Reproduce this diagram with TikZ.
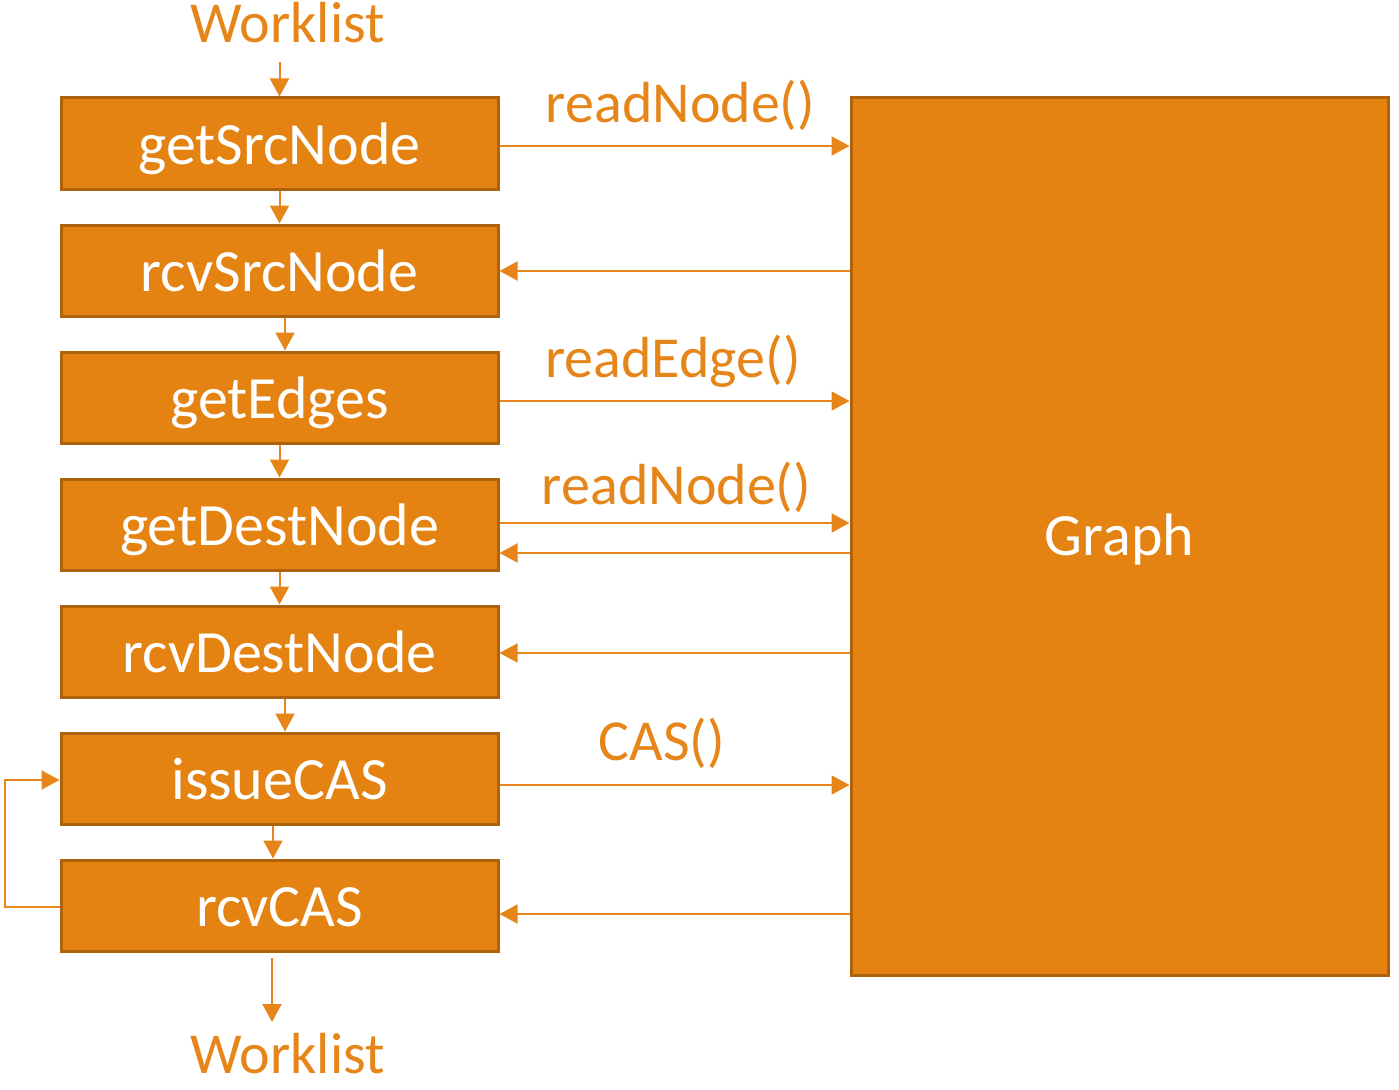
\documentclass[tikz,border=0pt]{standalone}
\usepackage{fontspec}
\setmainfont{Carlito}
\usetikzlibrary{arrows.meta,calc}
\definecolor{boxfill}{HTML}{E48312}
\definecolor{boxline}{HTML}{AE620C}
\definecolor{arr}{HTML}{E6861A}
\begin{document}
\begin{tikzpicture}[x=1pt,y=-1pt,
  stagebox/.style={draw=boxline,line width=3pt,fill=boxfill,minimum width=437pt,minimum height=91pt,inner sep=0pt,text height=49pt,text depth=8pt,text=white,font=\fontsize{60}{70}\selectfont},
  graphbox/.style={draw=boxline,line width=3pt,fill=boxfill,minimum width=537pt,minimum height=877pt,inner sep=0pt,text height=45pt,text depth=8pt,text=white,font=\fontsize{60}{70}\selectfont},
  flow/.style={draw=arr,line width=2pt,-{Triangle[length=18pt,width=19pt]}},
  lbl/.style={text=arr,font=\fontsize{58}{66}\selectfont,inner sep=0pt,anchor=base},
  wl/.style={text=arr,font=\fontsize{58}{66}\selectfont,inner sep=0pt,anchor=base}]
\useasboundingbox (0,0) rectangle (1399,1089);
\node[stagebox] (b1) at (279.5,143.5) {getSrcNode};
\node[stagebox] (b2) at (279.5,270.5) {rcvSrcNode};
\node[stagebox] (b3) at (279.5,397.5) {getEdges};
\node[stagebox] (b4) at (279.5,524.5) {getDestNode};
\node[stagebox] (b5) at (279.5,651.5) {rcvDestNode};
\node[stagebox] (b6) at (279.5,778.5) {issueCAS};
\node[stagebox] (b7) at (279.5,905.5) {rcvCAS};
\node[graphbox] (g) at (1119.5,536.5) {Graph};
\node[wl] (w1) at (287.5,43) {Worklist};
\node[wl] (w2) at (287.5,1073) {Worklist};
\node[lbl] (l1) at (680.5,123) {readNode()};
\node[lbl] (l2) at (673,377) {readEdge()};
\node[lbl] (l3) at (676.5,504) {readNode()};
\node[lbl] (l4) at (662,760) {CAS()};
\coordinate (t0) at (279.5,62);
\coordinate (bend1) at (5,907);
\coordinate (bend2) at (5,780);
\coordinate (t8) at (272,958);
\coordinate (t9) at (272,1022);
% vertical flow
\draw[flow] (t0) -- (b1.north);
\draw[flow] (b1.south) -- (b2.north);
\draw[flow] ([xshift=5.5pt]b2.south) -- ([xshift=5.5pt]b3.north);
\draw[flow] (b3.south) -- (b4.north);
\draw[flow] (b4.south) -- (b5.north);
\draw[flow] ([xshift=5.5pt]b5.south) -- ([xshift=5.5pt]b6.north);
\draw[flow] ([xshift=-6.5pt]b6.south) -- ([xshift=-6.5pt]b7.north);
\draw[flow] (t8) -- (t9);
% loop
\draw[flow] ([yshift=-1.5pt]b7.west) -- ([yshift=-1.5pt]b7.west -| bend1) -- (bend2) -- ([yshift=-1.5pt]b6.west);
% horizontal
\draw[flow] ([yshift=-2.5pt]b1.east) -- ([yshift=-2.5pt]b1.east -| g.west);
\draw[flow] ([yshift=-0.5pt]b2.east -| g.west) -- ([yshift=-0.5pt]b2.east);
\draw[flow] ([yshift=-3.5pt]b3.east) -- ([yshift=-3.5pt]b3.east -| g.west);
\draw[flow] ([yshift=1.5pt]b4.east) -- ([yshift=1.5pt]b4.east -| g.west);
\draw[flow] ([yshift=-28.5pt]b4.east -| g.west) -- ([yshift=-28.5pt]b4.east);
\draw[flow] ([yshift=-1.5pt]b5.east -| g.west) -- ([yshift=-1.5pt]b5.east);
\draw[flow] ([yshift=-6.5pt]b6.east) -- ([yshift=-6.5pt]b6.east -| g.west);
\draw[flow] ([yshift=-8.5pt]b7.east -| g.west) -- ([yshift=-8.5pt]b7.east);
\end{tikzpicture}
\end{document}
